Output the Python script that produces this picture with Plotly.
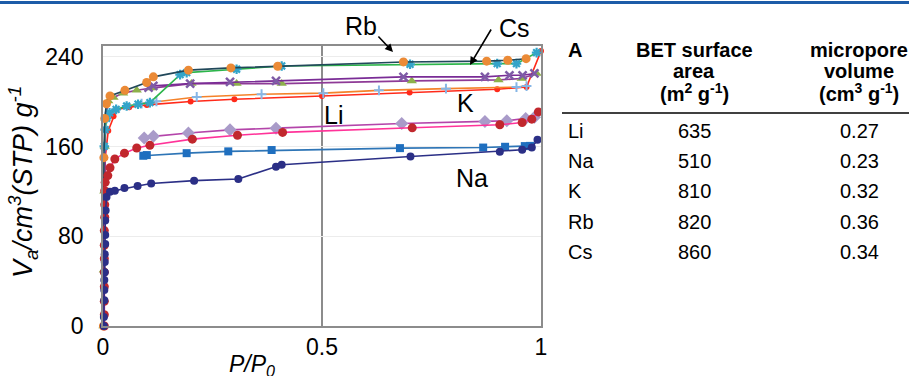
import plotly.graph_objects as go

# ---------------- data ----------------
na_ads_x = [0.002, 0.002, 0.003, 0.003, 0.003, 0.004, 0.004, 0.004, 0.005, 0.005, 0.005, 0.006, 0.008,
            0.016, 0.027, 0.049, 0.079, 0.11, 0.208, 0.309, 0.395, 0.408, 0.702, 0.906, 0.957, 0.979, 0.992]
na_ads_y = [0, 8, 23, 32, 41, 48, 57, 64, 73, 81, 94, 103, 115,
            119.7, 120.6, 123, 124.8, 127, 129.5, 131, 142, 143.7, 151, 155.3, 157, 159, 166]

na_des_x = [0.975, 0.963, 0.918, 0.868, 0.678, 0.385, 0.286, 0.191, 0.1, 0.092]
na_des_y = [160.5, 160.3, 159.7, 159, 158.5, 156.8, 155.6, 154, 152.3, 151.7]

li_ads_x = [0.003, 0.003, 0.003, 0.003, 0.003, 0.003, 0.003, 0.003, 0.004, 0.004, 0.004, 0.005,
            0.011, 0.016, 0.027, 0.049, 0.077, 0.107, 0.204, 0.307, 0.41, 0.706, 0.906, 0.957, 0.979, 0.994]
li_ads_y = [0, 10, 22, 35, 48, 60, 72, 85, 97, 108, 120.6, 128,
            134, 141, 148.8, 154, 158.6, 161, 166.5, 170, 172.5, 176.6, 179.3, 181.3, 184.3, 190.8]

li_des_x = [0.985, 0.965, 0.922, 0.872, 0.682, 0.395, 0.29, 0.195, 0.115, 0.094]
li_des_y = [186, 185, 182.9, 182.3, 180.5, 176.3, 174.8, 172, 169, 167.5]

k_ads_x = [0.001, 0.002, 0.003, 0.005, 0.012, 0.024, 0.031, 0.06, 0.1, 0.2, 0.3, 0.5, 0.7, 0.9, 0.967, 1.0]
k_ads_y = [0, 40, 100, 150, 174, 187, 193, 195, 197, 200, 202, 205, 208, 211, 213, 245]

k_des_x = [0.967, 0.944, 0.783, 0.63, 0.503, 0.362, 0.214, 0.122, 0.088]
k_des_y = [213.8, 212.9, 211.5, 210, 207.5, 206.5, 204.1, 200.2, 198.2]

rb_ads_x = [0.001, 0.002, 0.004, 0.008, 0.016, 0.05, 0.0997, 0.115, 0.195, 0.292, 0.399, 0.686, 0.876, 0.924, 0.966]
rb_ads_y = [0, 150, 185, 198, 205, 210, 217, 222, 228, 230, 231.5, 235.3, 236, 236.8, 238.2]

rb_des_x = [0.99, 0.944, 0.9, 0.701, 0.408, 0.305, 0.191, 0.176, 0.107, 0.08, 0.054, 0.03, 0.015, 0.008, 0.005, 0.003]
rb_des_y = [243.6, 233.8, 233.8, 233.2, 231.7, 228.8, 225.8, 224, 199, 197.6, 196, 193, 190, 185, 175, 160]

cs_ads_x = [0.001, 0.002, 0.003, 0.004, 0.006, 0.012, 0.024, 0.046, 0.077, 0.111, 0.202, 0.305, 0.408, 0.705, 0.903, 0.956, 0.99]
cs_ads_y = [0, 50, 120, 160, 185, 200.6, 203.6, 207.5, 210, 212, 216, 216, 216, 218.4, 219.3, 220.5, 225]

cs_des_x = [0.985, 0.958, 0.928, 0.872, 0.686, 0.395, 0.29, 0.199, 0.115, 0.104]
cs_des_y = [225, 223.4, 223.4, 222, 222, 218.4, 217.5, 216, 214, 212.5]

x_tick_vals = [0, 0.5, 1]
x_tick_text = ["0", "0.5", "1"]
y_tick_vals = [0, 80, 160, 240]
y_tick_text = ["0", "80", "160", "240"]

table_cations = ["Li", "Na", "K", "Rb", "Cs"]
table_bet = ["635", "510", "810", "820", "860"]
table_micro = ["0.27", "0.23", "0.32", "0.36", "0.34"]

# ---------------- figure ----------------
FONT = "Arial, Liberation Sans, sans-serif"
L, T, PW, PH = 103, 46, 438, 280


def px(xp):
    return (xp - L) / PW


def py(yp):
    return (T + PH - yp) / PH


fig = go.Figure()


def add(x, y, line_color, symbol, marker_color, size, lw=1.6, mline=0):
    fig.add_trace(go.Scatter(
        x=x, y=y, mode="lines+markers",
        line=dict(color=line_color, width=lw),
        marker=dict(symbol=symbol, color=marker_color, size=size,
                    line=dict(width=mline, color=marker_color)),
        showlegend=False, cliponaxis=False))


add(k_ads_x, k_ads_y, "#FF2A1A", "circle", "#FF2A1A", 0, 1.6)
add(k_des_x, k_des_y, "#F4822A", "cross-thin-open", "#86B6E6", 7, 1.6, 2)
add(cs_ads_x, cs_ads_y, "#8E3A96", "triangle-up", "#8DB04A", 9)
add(cs_des_x, cs_des_y, "#7A2C96", "x-thin-open", "#7E5BA6", 8, 1.6, 2.5)
add(rb_des_x, rb_des_y, "#2DB54B", "asterisk-open", "#33A4C9", 8, 1.6, 2.2)
add(rb_ads_x, rb_ads_y, "#21485A", "circle", "#EB8A36", 9)
add(li_des_x, li_des_y, "#B445AA", "diamond", "#A99BC9", 10)
add(li_ads_x, li_ads_y, "#FF3399", "circle", "#C1272D", 9)
add(na_des_x, na_des_y, "#2E75B6", "square", "#1F6FBF", 8)
add(na_ads_x, na_ads_y, "#2B2F86", "circle", "#2B2F86", 8)

annotations = []


def txt(x, y, s, size=25, anchor="center", **kw):
    annotations.append(dict(x=px(x), y=py(y), xref="paper", yref="paper", text=s,
                            showarrow=False, xanchor=anchor, yanchor="middle",
                            font=dict(family=FONT, size=size, color="black"), **kw))


# series labels
txt(361, 26, "Rb")
txt(514, 28, "Cs")
txt(465, 103, "K")
txt(333, 115, "Li")
txt(472, 178, "Na")

# arrows
for tip, tail in [((393, 52), (377, 35)), ((470, 65), (492, 28))]:
    annotations.append(dict(x=px(tip[0]), y=py(tip[1]), xref="paper", yref="paper",
                            ax=tail[0] - tip[0], ay=tail[1] - tip[1], text="",
                            showarrow=True, arrowhead=2, arrowsize=1, arrowwidth=1.6,
                            arrowcolor="black"))

# axis titles
txt(23, 182, "<i>V<sub>a</sub>/cm<sup>3</sup>(STP) g<sup>-1</sup></i>", size=27, textangle=-90)
txt(252, 365, "<i>P/P<sub>0</sub></i>", size=23)

# table
TS = 20
C1, C2 = 694, 859
txt(566, 50, "<b>A</b>", TS, "left")
txt(C1, 50, "<b>BET surface</b>", TS)
txt(C1, 71, "<b>area</b>", TS)
txt(C1, 93, "<b>(m<sup>2</sup> g<sup>-1</sup>)</b>", TS)
txt(C2, 50, "<b>micropore</b>", TS)
txt(C2, 71, "<b>volume</b>", TS)
txt(C2, 93, "<b>(cm<sup>3</sup> g<sup>-1</sup>)</b>", TS)
for i, (c, b, m) in enumerate(zip(table_cations, table_bet, table_micro)):
    yy = 131 + 30.2 * i
    txt(566, yy, c, TS, "left")
    txt(C1, yy, b, TS)
    txt(C2, yy, m, TS)

shapes = [
    dict(type="line", xref="paper", yref="paper", x0=px(562), x1=px(909), y0=py(113), y1=py(113),
         line=dict(color="black", width=1.6)),
    dict(type="line", xref="paper", yref="paper", x0=px(0), x1=px(909), y0=py(2.5), y1=py(2.5),
         line=dict(color="#1D5CA8", width=3)),
]

fig.update_layout(
    width=909, height=376,
    margin=dict(l=L, r=909 - L - PW, t=T, b=376 - T - PH, pad=0),
    paper_bgcolor="white", plot_bgcolor="white",
    font=dict(family=FONT, color="black"),
    annotations=annotations, shapes=shapes,
    xaxis=dict(range=[0, 1], tickvals=x_tick_vals, ticktext=x_tick_text,
               showgrid=True, gridcolor="#8c8c8c", gridwidth=1.5, zeroline=False,
               showline=True, mirror=True, linecolor="#8c8c8c", linewidth=1.5,
               ticks="", ticklabelstandoff=0, tickfont=dict(size=23, family=FONT)),
    yaxis=dict(range=[0, 249.5], tickvals=y_tick_vals, ticktext=y_tick_text,
               showgrid=True, gridcolor="#ececec", gridwidth=1, zeroline=False,
               showline=True, mirror=True, linecolor="#8c8c8c", linewidth=1.5,
               ticks="", ticklabelstandoff=13, tickfont=dict(size=23, family=FONT)),
)

fig.write_html("out.html", config={"displayModeBar": False},
               post_script="document.body.style.margin='0';document.body.style.overflow='hidden';")
